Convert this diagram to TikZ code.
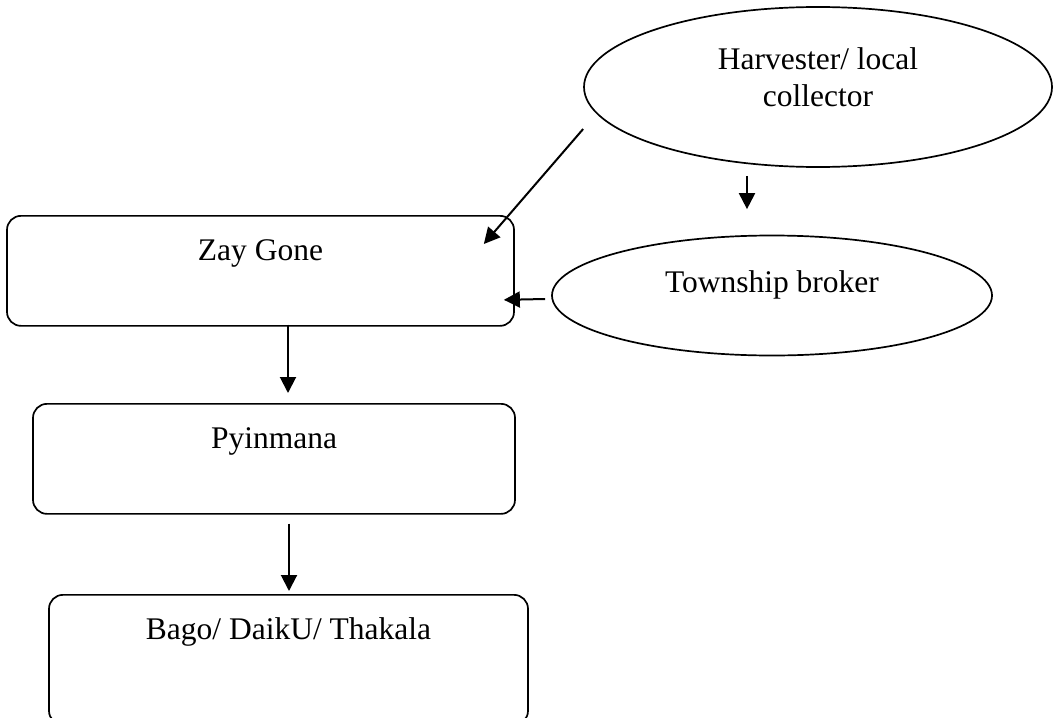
\documentclass[tikz,border=0pt]{standalone}
\usepackage{fontspec}
\setmainfont{Liberation Serif}
\usetikzlibrary{arrows.meta}
\usetikzlibrary{shapes.geometric}

\begin{document}
\begin{tikzpicture}[x=0.5pt,y=-0.5pt,
  every node/.style={font=\fontsize{15.75pt}{18.5pt}\selectfont},
  box/.style={draw, line width=0.85pt, rounded corners=7pt, inner sep=0pt, text height=22.5pt, anchor=north},
  oval/.style={draw, ellipse, line width=0.85pt, inner sep=0pt, align=center},
  flow/.style={line width=1pt, -{Triangle[length=8pt,width=8pt]}}]

\useasboundingbox (0,0) rectangle (1053,717);

\node[box, minimum width=253.5pt, text depth=32.5pt] (zay) at (260.5,215) {Zay Gone};
\node[box, minimum width=241pt, text depth=32.5pt] (pyin) at (274,403) {Pyinmana};
\node[box, minimum width=239.5pt, text depth=42.5pt] (bago) at (288.5,594) {Bago/ DaikU/ Thakala};

\node[oval, minimum width=234pt, minimum height=80pt, text depth=10.25pt] (harv) at (818,87) {Harvester/ local\\collector};
\node[oval, minimum width=220pt, minimum height=60pt, text height=10.75pt, text depth=14.25pt] (town) at (772,295.5) {Township broker};

\draw[flow] ([shift={(0,42)}]harv.west) -- ([shift={(-31,29)}]zay.north east);
\draw[flow] ([shift={(-71,8)}]harv.south) -- ([shift={(-25,-25.5)}]town.north);
\draw[flow] ([shift={(-6,3.5)}]town.west) -- ([shift={(-11,29)}]zay.east);
\draw[flow] ([shift={(27.5,-2)}]zay.south) -- ([shift={(14,-10)}]pyin.north);
\draw[flow] ([shift={(15,9)}]pyin.south) -- ([shift={(0.5,-3)}]bago.north);

\end{tikzpicture}
\end{document}
